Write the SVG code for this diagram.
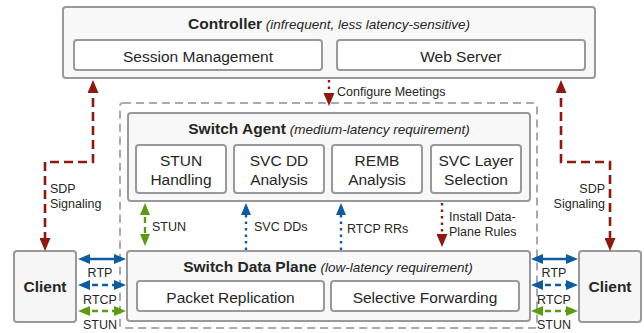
<svg xmlns="http://www.w3.org/2000/svg" width="644" height="333" viewBox="0 0 644 333">
  <style>
    text { font-family: "Liberation Sans", Arial, Helvetica, sans-serif; fill: #262626; }
    .outer { fill: #f8f8f8; stroke: #999; stroke-width: 2; }
    .inner { fill: #ffffff; stroke: #999; stroke-width: 2; }
    .client { fill: #f6f6f6; stroke: #999; stroke-width: 2; }
    .zone { fill: none; stroke: #aaa; stroke-width: 2; stroke-dasharray: 8 5; }
    .title { font-size: 15.5px; font-weight: bold; }
    .sub { font-size: 13.5px; font-style: italic; font-weight: normal; }
    .box { font-size: 15.5px; text-anchor: middle; }
    .lbl { font-size: 12.5px; }
    .red { stroke: #8c1a11; fill: none; }
    .blue { stroke: #0f5b9e; fill: none; }
    .green { stroke: #5d9a14; fill: none; }
    .sig { stroke-width: 2.6; stroke-dasharray: 9 5; }
    .dot { stroke-width: 2.4; stroke-dasharray: 2.5 4; }
    .dash { stroke-width: 2.4; stroke-dasharray: 6 4; }
    .solid { stroke-width: 2.4; }
  </style>
  <defs>
    <marker id="ah-red" markerUnits="userSpaceOnUse" markerWidth="13" markerHeight="11" viewBox="0 0 13 11" refX="9" refY="5.5" orient="auto-start-reverse">
      <path d="M0,0 L13,5.5 L0,11 z" fill="#8c1a11"/>
    </marker>
    <marker id="ah-blue" markerUnits="userSpaceOnUse" markerWidth="12" markerHeight="10" viewBox="0 0 12 10" refX="8" refY="5" orient="auto-start-reverse">
      <path d="M0,0 L12,5 L0,10 z" fill="#0f5b9e"/>
    </marker>
    <marker id="ah-green" markerUnits="userSpaceOnUse" markerWidth="12" markerHeight="10" viewBox="0 0 12 10" refX="8" refY="5" orient="auto-start-reverse">
      <path d="M0,0 L12,5 L0,10 z" fill="#5d9a14"/>
    </marker>
  </defs>

  <!-- switch boundary -->
  <rect class="zone" x="120" y="103" width="417" height="225" rx="3"/>

  <g id="controller">
    <rect class="outer" x="63" y="7" width="532" height="71" rx="3"/>
    <text x="329" y="29" text-anchor="middle"><tspan class="title">Controller</tspan><tspan class="sub"> (infrequent, less latency-sensitive)</tspan></text>
  </g>
  <g id="session-management">
    <rect class="inner" x="74" y="40" width="248" height="30" rx="3"/>
    <text class="box" x="198" y="62">Session Management</text>
  </g>
  <g id="web-server">
    <rect class="inner" x="337" y="40" width="248" height="30" rx="3"/>
    <text class="box" x="461" y="62">Web Server</text>
  </g>

  <g id="switch-agent">
    <rect class="outer" x="128" y="113" width="402" height="88" rx="3"/>
    <text x="329" y="134" text-anchor="middle"><tspan class="title">Switch Agent</tspan><tspan class="sub"> (medium-latency requirement)</tspan></text>
  </g>
  <g id="stun-handling">
    <rect class="inner" x="136" y="145" width="90" height="48" rx="3"/>
    <text class="box" x="181" y="166">STUN</text>
    <text class="box" x="181" y="185">Handling</text>
  </g>
  <g id="svc-dd-analysis">
    <rect class="inner" x="234" y="145" width="90" height="48" rx="3"/>
    <text class="box" x="279" y="166">SVC DD</text>
    <text class="box" x="279" y="185">Analysis</text>
  </g>
  <g id="remb-analysis">
    <rect class="inner" x="332" y="145" width="90" height="48" rx="3"/>
    <text class="box" x="377" y="166">REMB</text>
    <text class="box" x="377" y="185">Analysis</text>
  </g>
  <g id="svc-layer-selection">
    <rect class="inner" x="431" y="145" width="90" height="48" rx="3"/>
    <text class="box" x="476" y="166">SVC Layer</text>
    <text class="box" x="476" y="185">Selection</text>
  </g>

  <g id="switch-data-plane">
    <rect class="outer" x="127" y="251" width="403" height="70" rx="3"/>
    <text x="328" y="272" text-anchor="middle"><tspan class="title">Switch Data Plane</tspan><tspan class="sub"> (low-latency requirement)</tspan></text>
  </g>
  <g id="packet-replication">
    <rect class="inner" x="137" y="281" width="187" height="30" rx="3"/>
    <text class="box" x="230.5" y="303">Packet Replication</text>
  </g>
  <g id="selective-forwarding">
    <rect class="inner" x="331" y="281" width="188" height="30" rx="3"/>
    <text class="box" x="425" y="303">Selective Forwarding</text>
  </g>

  <g id="client-left">
    <rect class="client" x="14" y="251" width="62" height="71" rx="3"/>
    <text class="box title" x="45" y="292">Client</text>
  </g>
  <g id="client-right">
    <rect class="client" x="579" y="251" width="62" height="71" rx="3"/>
    <text class="box title" x="610" y="292">Client</text>
  </g>

  <g id="connectors">
    <!-- SDP signaling, client to controller -->
    <path class="red sig" d="M93,84 V162 H45 V247" marker-start="url(#ah-red)" marker-end="url(#ah-red)"/>
    <path class="red sig" d="M561,84 V162 H610 V247" marker-start="url(#ah-red)" marker-end="url(#ah-red)"/>
    <text class="lbl" x="50" y="193">SDP</text>
    <text class="lbl" x="50" y="208">Signaling</text>
    <text class="lbl" x="605" y="193" text-anchor="end">SDP</text>
    <text class="lbl" x="605" y="208" text-anchor="end">Signaling</text>

    <!-- controller to agent -->
    <path class="red dot" d="M329,80 V102" marker-end="url(#ah-red)"/>
    <text class="lbl" x="337" y="96">Configure Meetings</text>

    <!-- agent <-> data plane -->
    <path class="green dash" d="M145,207 V242" stroke-dasharray="3 4" marker-start="url(#ah-green)" marker-end="url(#ah-green)"/>
    <text class="lbl" x="152" y="231">STUN</text>
    <path class="blue dot" d="M246,250 V207" marker-end="url(#ah-blue)"/>
    <text class="lbl" x="254" y="231">SVC DDs</text>
    <path class="blue dot" d="M341,250 V207" marker-end="url(#ah-blue)"/>
    <text class="lbl" x="347" y="233">RTCP RRs</text>
    <path class="red dot" d="M442,203 V243" marker-end="url(#ah-red)"/>
    <text class="lbl" x="449" y="221">Install Data-</text>
    <text class="lbl" x="449" y="236">Plane Rules</text>

    <!-- client <-> data plane, left -->
    <path class="blue solid" d="M82,259 H122" marker-start="url(#ah-blue)" marker-end="url(#ah-blue)"/>
    <path class="blue dash" d="M82,285 H122" marker-start="url(#ah-blue)" marker-end="url(#ah-blue)"/>
    <path class="green dash" d="M82,311 H122" marker-start="url(#ah-green)" marker-end="url(#ah-green)"/>
    <text class="lbl" x="100" y="277" text-anchor="middle">RTP</text>
    <text class="lbl" x="100" y="304" text-anchor="middle">RTCP</text>
    <text class="lbl" x="100" y="329" text-anchor="middle">STUN</text>

    <!-- client <-> data plane, right -->
    <path class="blue solid" d="M535,259 H574" marker-start="url(#ah-blue)" marker-end="url(#ah-blue)"/>
    <path class="blue dash" d="M535,285 H574" marker-start="url(#ah-blue)" marker-end="url(#ah-blue)"/>
    <path class="green dash" d="M535,311 H574" marker-start="url(#ah-green)" marker-end="url(#ah-green)"/>
    <text class="lbl" x="554" y="277" text-anchor="middle">RTP</text>
    <text class="lbl" x="554" y="304" text-anchor="middle">RTCP</text>
    <text class="lbl" x="554" y="329" text-anchor="middle">STUN</text>
  </g>
</svg>
